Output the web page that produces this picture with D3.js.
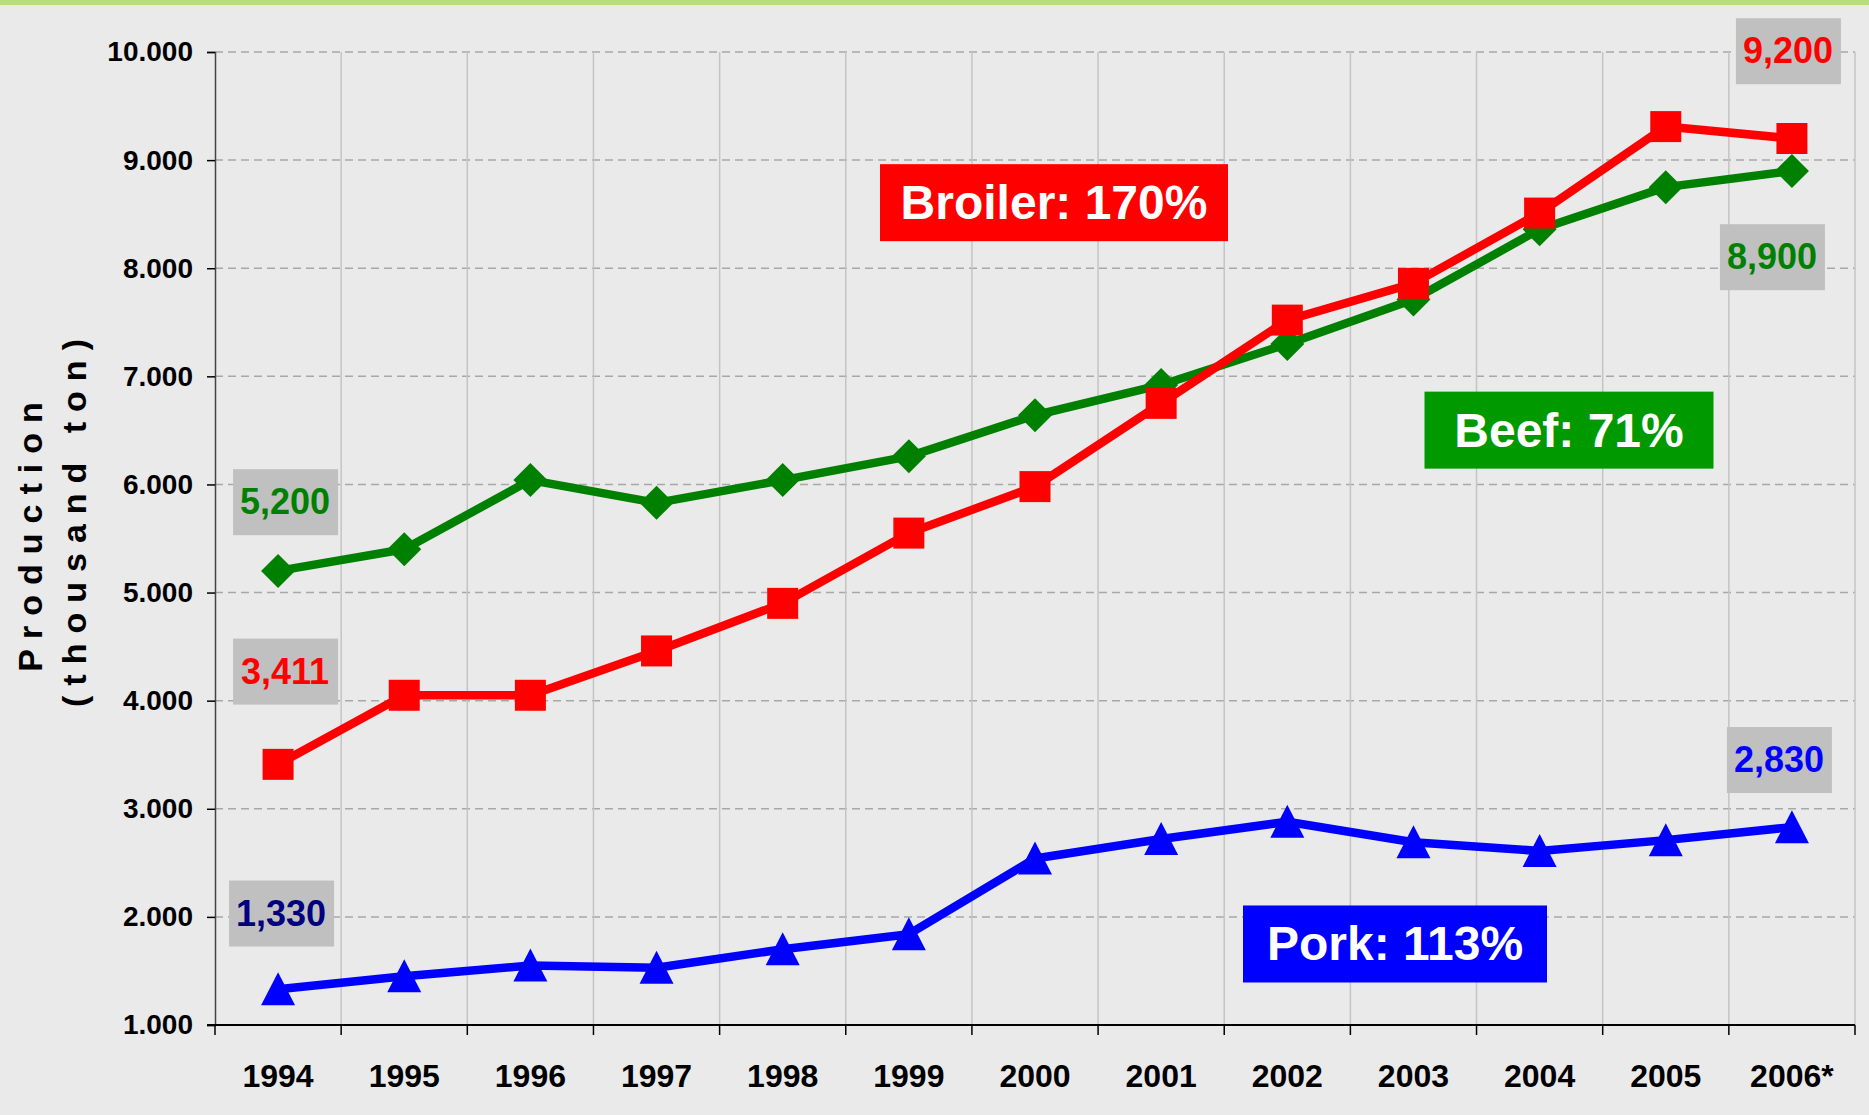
<!DOCTYPE html>
<html>
  <head>
    <meta charset="utf-8">
    <script src="https://d3js.org/d3.v7.min.js"></script>
    <title>Production (thousand ton)</title>
    <style>
      body {
        margin: 0px;
        background: #eaeaea;
      }
      svg {
        display: block;
        font-family: "Liberation Sans", Arial, sans-serif;
        font-weight: bold;
      }
      .y-axis .tick text {
        font-size: 28px;
        fill: #000;
      }
      .x-axis .tick text {
        font-size: 32px;
        fill: #000;
      }
      .axis-label {
        font-size: 34px;
        letter-spacing: 10px;
        fill: #000;
      }
      .value-label {
        font-size: 36px;
      }
      .growth-label {
        font-size: 48px;
        fill: #fff;
      }
    </style>
  </head>
  <body>
    <svg width="1869" height="1115"></svg>
    <script>
      // data (thousand ton)
      const years = ['1994', '1995', '1996', '1997', '1998', '1999', '2000',
                     '2001', '2002', '2003', '2004', '2005', '2006*'];
      const broiler = [3411, 4050, 4050, 4460, 4900, 5550, 5980, 6750, 7520, 7860, 8510, 9310, 9200];
      const beef = [5200, 5400, 6040, 5830, 6040, 6260, 6640, 6920, 7300, 7710, 8360, 8750, 8900];
      const pork = [1330, 1450, 1550, 1530, 1700, 1840, 2540, 2720, 2880, 2690, 2610, 2710, 2830];
      const yTicks = [1000, 2000, 3000, 4000, 5000, 6000, 7000, 8000, 9000, 10000];

      // callout labels: first / last values and growth boxes (anchored in data units)
      const valueLabels = [
        { text: '5,200', year: '1994', value: 5836, dx: 7, color: '#008000' },
        { text: '3,411', year: '1994', value: 4269, dx: 7, color: '#ff0000' },
        { text: '1,330', year: '1994', value: 2031, dx: 3, color: '#000080' },
        { text: '9,200', year: '2006*', value: 10007, dx: -4, color: '#ff0000' },
        { text: '8,900', year: '2006*', value: 8102, dx: -20, color: '#008000' },
        { text: '2,830', year: '2006*', value: 3451, dx: -13, color: '#0000ff' }
      ];
      const growthLabels = [
        { text: 'Broiler: 170%', x: 1054, value: 8611, width: 348, fill: '#ff0000' },
        { text: 'Beef: 71%', x: 1569, value: 6507, width: 289, fill: '#009900' },
        { text: 'Pork: 113%', x: 1395, value: 1754, width: 304, fill: '#0000ff' }
      ];

      const svg = d3.select('svg');
      const width = +svg.attr('width');
      const height = +svg.attr('height');

      const margin = { left: 215, right: 14, top: 52, bottom: 90 };
      const innerBottom = height - margin.bottom;

      // background and top strip
      svg.append('rect')
        .attr('width', width).attr('height', height)
        .attr('fill', '#eaeaea');
      svg.append('rect')
        .attr('width', width).attr('height', 5)
        .attr('fill', '#b9dd7e');

      const xScale = d3.scaleBand()
        .domain(years)
        .range([margin.left, width - margin.right]);
      const xMid = d => xScale(d) + xScale.bandwidth() / 2;

      const yScale = d3.scaleLinear()
        .domain([1000, 10000])
        .range([innerBottom, margin.top]);

      // grid
      const grid = svg.append('g');
      grid.selectAll('.hgrid').data(yTicks.slice(1))
        .enter().append('line')
          .attr('x1', margin.left).attr('x2', width - margin.right)
          .attr('y1', d => yScale(d)).attr('y2', d => yScale(d))
          .attr('stroke', '#a8a8a8')
          .attr('stroke-width', 1.5)
          .attr('stroke-dasharray', '8,5');
      grid.selectAll('.vgrid').data(years)
        .enter().append('line')
          .attr('x1', d => xScale(d) + xScale.bandwidth())
          .attr('x2', d => xScale(d) + xScale.bandwidth())
          .attr('y1', yScale(10000)).attr('y2', yScale(1000))
          .attr('stroke', '#c4c4c4')
          .attr('stroke-width', 1.5);

      // y axis
      const dotFormat = d3.formatLocale({ decimal: ',', thousands: '.', grouping: [3], currency: ['', ''] }).format(',');
      const yAxisG = svg.append('g')
        .attr('class', 'y-axis')
        .attr('transform', `translate(${margin.left},0)`)
        .call(d3.axisLeft(yScale)
          .tickValues(yTicks)
          .tickFormat(dotFormat)
          .tickSize(8)
          .tickPadding(14));
      yAxisG.select('.domain').attr('stroke', '#444').attr('stroke-width', 1.5);
      yAxisG.selectAll('.tick line').attr('stroke', '#000').attr('stroke-width', 1.5);

      // x axis: labels centred in bands, ticks on band edges
      const xAxisG = svg.append('g')
        .attr('class', 'x-axis')
        .attr('transform', `translate(0,${innerBottom})`)
        .call(d3.axisBottom(xScale).tickSize(0).tickPadding(39));
      xAxisG.select('.domain').remove();
      xAxisG.append('line')
        .attr('x1', margin.left - 8).attr('x2', width - margin.right)
        .attr('stroke', '#000').attr('stroke-width', 2);
      xAxisG.selectAll('.edge').data([years[0]].concat(years))
        .enter().append('line')
          .attr('x1', (d, i) => i === 0 ? xScale(d) : xScale(d) + xScale.bandwidth())
          .attr('x2', (d, i) => i === 0 ? xScale(d) : xScale(d) + xScale.bandwidth())
          .attr('y1', 0).attr('y2', 10)
          .attr('stroke', '#000').attr('stroke-width', 1.5);

      // y axis title
      const titleG = svg.append('g').attr('transform', 'rotate(-90)');
      titleG.append('text')
        .attr('class', 'axis-label')
        .attr('x', -532).attr('y', 42)
        .attr('text-anchor', 'middle')
        .text('Production');
      titleG.append('text')
        .attr('class', 'axis-label')
        .attr('x', -518).attr('y', 86)
        .attr('text-anchor', 'middle')
        .text('(thousand ton)');

      // series
      const series = [
        { values: beef, color: '#008000', shape: 'diamond' },
        { values: broiler, color: '#ff0000', shape: 'square' },
        { values: pork, color: '#0000ff', shape: 'triangle' }
      ];
      const shapes = {
        diamond: 'M0,-17L17,0L0,17L-17,0Z',
        square: 'M-15.5,-15.5H15.5V15.5H-15.5Z',
        triangle: 'M0,-17L17,16L-17,16Z'
      };
      const line = d3.line()
        .x((d, i) => xMid(years[i]))
        .y(d => yScale(d));

      series.forEach(s => {
        const g = svg.append('g');
        g.append('path')
          .attr('d', line(s.values))
          .attr('fill', 'none')
          .attr('stroke', s.color)
          .attr('stroke-width', 8.5)
          .attr('stroke-linejoin', 'round');
        g.selectAll('path.marker').data(s.values)
          .enter().append('path')
            .attr('class', 'marker')
            .attr('transform', (d, i) => `translate(${xMid(years[i])},${yScale(d)})`)
            .attr('d', shapes[s.shape])
            .attr('fill', s.color);
      });

      // value callouts
      const vl = svg.selectAll('.value-callout').data(valueLabels)
        .enter().append('g')
          .attr('transform', d => `translate(${xMid(d.year) + d.dx},${yScale(d.value)})`);
      vl.append('rect')
        .attr('x', -52).attr('y', -33)
        .attr('width', 105).attr('height', 66)
        .attr('fill', '#c0c0c0');
      vl.append('text')
        .attr('class', 'value-label')
        .attr('text-anchor', 'middle')
        .attr('dy', 12)
        .attr('fill', d => d.color)
        .text(d => d.text);

      // growth boxes
      const gl = svg.selectAll('.growth-callout').data(growthLabels)
        .enter().append('g')
          .attr('transform', d => `translate(${d.x},${yScale(d.value)})`);
      gl.append('rect')
        .attr('x', d => -d.width / 2).attr('y', -38)
        .attr('width', d => d.width).attr('height', 77)
        .attr('fill', d => d.fill);
      gl.append('text')
        .attr('class', 'growth-label')
        .attr('text-anchor', 'middle')
        .attr('dy', 17)
        .text(d => d.text);
    </script>
  </body>
</html>
